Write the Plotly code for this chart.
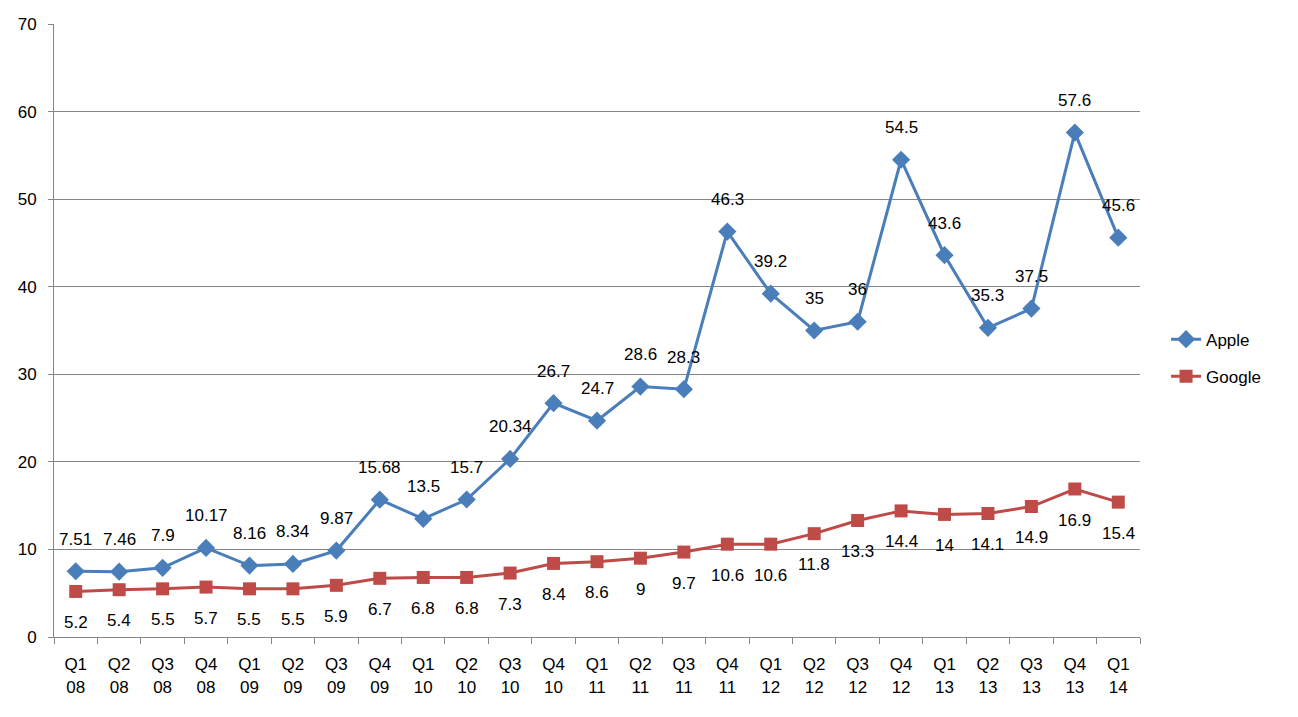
import plotly.graph_objects as go

quarters = ["Q1<br>08", "Q2<br>08", "Q3<br>08", "Q4<br>08",
            "Q1<br>09", "Q2<br>09", "Q3<br>09", "Q4<br>09",
            "Q1<br>10", "Q2<br>10", "Q3<br>10", "Q4<br>10",
            "Q1<br>11", "Q2<br>11", "Q3<br>11", "Q4<br>11",
            "Q1<br>12", "Q2<br>12", "Q3<br>12", "Q4<br>12",
            "Q1<br>13", "Q2<br>13", "Q3<br>13", "Q4<br>13",
            "Q1<br>14"]
apple = [7.51, 7.46, 7.9, 10.17, 8.16, 8.34, 9.87, 15.68, 13.5, 15.7, 20.34, 26.7,
         24.7, 28.6, 28.3, 46.3, 39.2, 35, 36, 54.5, 43.6, 35.3, 37.5, 57.6, 45.6]
google = [5.2, 5.4, 5.5, 5.7, 5.5, 5.5, 5.9, 6.7, 6.8, 6.8, 7.3, 8.4,
          8.6, 9, 9.7, 10.6, 10.6, 11.8, 13.3, 14.4, 14, 14.1, 14.9, 16.9, 15.4]

font = "Liberation Sans"
fsize = 17

fig = go.Figure()
fig.add_trace(go.Scatter(
    name="Apple", x=quarters, y=apple, mode="lines+markers", legendgroup="a",
    line=dict(color="#4A7EBB", width=3),
    marker=dict(symbol="diamond", size=14, color="#4A7EBB"),
))
fig.add_trace(go.Scatter(
    name="Google", x=quarters, y=google, mode="lines+markers", legendgroup="g",
    line=dict(color="#BE4B48", width=3),
    marker=dict(symbol="square", size=13, color="#BE4B48"),
))

# data labels, Excel-style offset from the markers
for q, a, g in zip(quarters, apple, google):
    fig.add_annotation(x=q, y=a, text=str(a), showarrow=False, yshift=32,
                       font=dict(family=font, size=fsize, color="black"))
    fig.add_annotation(x=q, y=g, text=str(g), showarrow=False, yshift=-31,
                       font=dict(family=font, size=fsize, color="black"))

# page body adds 8px, so the figure is a bit smaller than the window
fig.update_layout(
    width=1282, height=701,
    margin=dict(l=46, r=150, t=16, b=72),
    paper_bgcolor="white", plot_bgcolor="white",
    font=dict(family=font, size=fsize, color="black"),
    showlegend=True,
    legend=dict(x=1.024, y=0.455, xanchor="left", yanchor="middle",
                font=dict(size=fsize), traceorder="grouped", tracegroupgap=12),
    xaxis=dict(type="category", range=[-0.5, len(quarters) - 0.5],
               tickson="boundaries", ticks="outside", ticklen=6,
               ticklabelstandoff=12,
               tickcolor="#868686", showline=True, linecolor="#868686", linewidth=1,
               showgrid=False, automargin=False, tickfont=dict(size=fsize)),
    yaxis=dict(range=[0, 70], dtick=10, ticks="outside", ticklen=5,
               ticklabelstandoff=8,
               tickcolor="#868686", showline=True, linecolor="#868686", linewidth=1,
               gridcolor="#868686", gridwidth=1, zeroline=False, automargin=False,
               tickfont=dict(size=fsize)),
)

fig.write_html("out.html")
